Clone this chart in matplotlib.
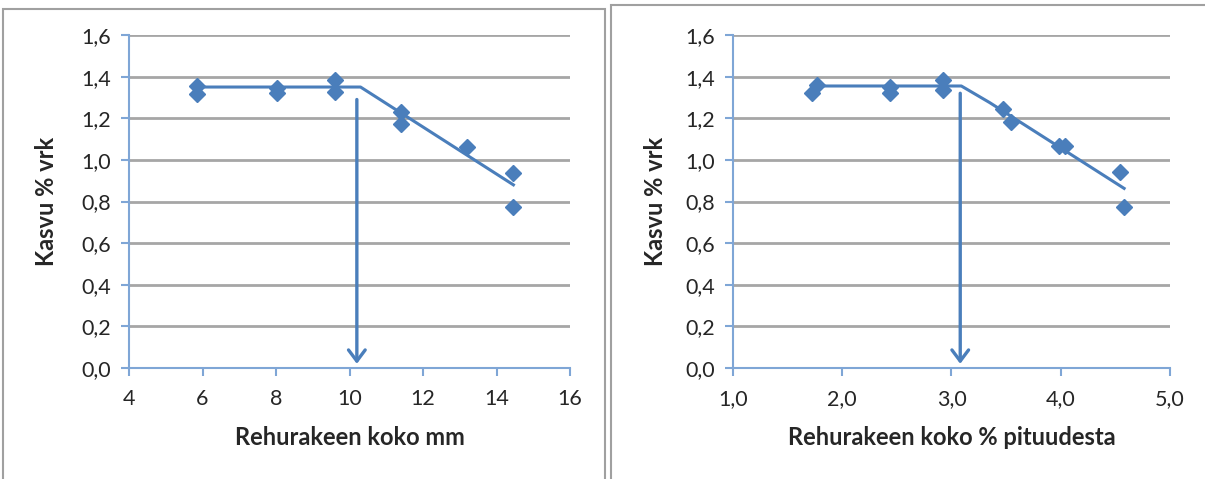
# kasvu vs. rehurakeen koko, two panels

import matplotlib
matplotlib.use('Agg')
import matplotlib.pyplot as plt
from matplotlib.patches import Rectangle
from matplotlib.ticker import FuncFormatter

plt.rcParams['font.family'] = ['Lato', 'DejaVu Sans']

# left panel: size in mm
mm_x = [5.84, 5.84, 8.02, 8.02, 9.6, 9.6, 11.4, 11.4, 13.19, 14.46, 14.46]
mm_y = [1.355, 1.317, 1.344, 1.32, 1.384, 1.328, 1.232, 1.171, 1.064, 0.939, 0.775]
mm_fit_x = [5.84, 10.3, 14.46]
mm_fit_y = [1.35, 1.35, 0.88]
mm_arrow_x = 10.2
mm_arrow_y = [1.29, 0.02]

# right panel: size in % of length
pct_x = [1.725, 1.768, 2.44, 2.44, 2.92, 2.92, 3.47, 3.545, 3.98, 4.04, 4.54, 4.58]
pct_y = [1.32, 1.358, 1.35, 1.32, 1.384, 1.336, 1.243, 1.184, 1.068, 1.068, 0.943, 0.775]
pct_fit_x = [1.79, 3.09, 3.35, 4.58]
pct_fit_y = [1.355, 1.355, 1.275, 0.863]
pct_arrow_x = 3.08
pct_arrow_y = [1.32, 0.02]

blue = '#4a7ebb'
axis_blue = '#7fa6d6'
grid_gray = '#a6a6a6'
text_col = '#262626'


def comma(fmt):
    return FuncFormatter(lambda v, p: (fmt % v).replace('.', ','))


def draw_panel(ax, x, y, fx, fy, ax_x, ax_y, xlim, xstep, xfmt, xlabel, ylab_x):
    ax.set_xlim(*xlim)
    ax.set_ylim(0, 1.6)
    n = int(round((xlim[1] - xlim[0]) / xstep))
    ax.set_xticks([xlim[0] + i * xstep for i in range(n + 1)])
    ax.set_yticks([i * 0.2 for i in range(9)])
    ax.xaxis.set_major_formatter(comma(xfmt))
    ax.yaxis.set_major_formatter(comma('%.1f'))
    ax.grid(axis='y', color=grid_gray, lw=2)
    ax.set_axisbelow(True)
    for s in ['top', 'right']:
        ax.spines[s].set_visible(False)
    for s in ['left', 'bottom']:
        ax.spines[s].set_color(axis_blue)
        ax.spines[s].set_linewidth(1.5)
    ax.tick_params(axis='both', direction='out', length=6, width=1.5,
                   color=axis_blue, labelsize=15.5, labelcolor=text_col)
    ax.tick_params(axis='x', pad=9)
    ax.tick_params(axis='y', pad=7)

    ax.plot(fx, fy, color=blue, lw=2.2, zorder=3)
    ax.plot(x, y, 'D', color=blue, ms=8, zorder=4, clip_on=False)
    ax.annotate('', xy=(ax_x, ax_y[1]), xytext=(ax_x, ax_y[0]),
                arrowprops=dict(arrowstyle='->,head_length=0.8,head_width=0.6',
                                color=blue, lw=2.4, shrinkA=0, shrinkB=0),
                zorder=5)

    ax.set_xlabel(xlabel, fontsize=17, fontweight='bold', color=text_col)
    ax.set_ylabel('Kasvu % vrk', fontsize=17, fontweight='bold', color=text_col)
    ax.xaxis.set_label_coords(0.5, -0.21, transform=ax.transAxes)
    ax.yaxis.set_label_coords(ylab_x, 0.5, transform=ax.transAxes)
    ax.xaxis.label.set_va('center')
    ax.yaxis.label.set_va('center')


fig = plt.figure(figsize=(12.05, 4.79), dpi=100, facecolor='w')

W, H = 1205, 479
fig.patches.append(Rectangle((3 / W, -0.01), 602 / W, (479 - 9) / H + 0.01,
                             transform=fig.transFigure, fill=False,
                             ec='#a0a0a0', lw=1.5))
fig.patches.append(Rectangle((611 / W, -0.01), 600 / W, (479 - 5) / H + 0.01,
                             transform=fig.transFigure, fill=False,
                             ec='#a0a0a0', lw=1.5))

ax1 = fig.add_axes([129 / W, 111 / H, 441 / W, 333 / H])
ax2 = fig.add_axes([733 / W, 111 / H, 437 / W, 333 / H])

draw_panel(ax1, mm_x, mm_y, mm_fit_x, mm_fit_y, mm_arrow_x, mm_arrow_y,
           (4, 16), 2, '%d', 'Rehurakeen koko mm', -0.186)
draw_panel(ax2, pct_x, pct_y, pct_fit_x, pct_fit_y, pct_arrow_x, pct_arrow_y,
           (1, 5), 1, '%.1f', 'Rehurakeen koko % pituudesta', -0.178)

fig.savefig('out.png', dpi=100)
